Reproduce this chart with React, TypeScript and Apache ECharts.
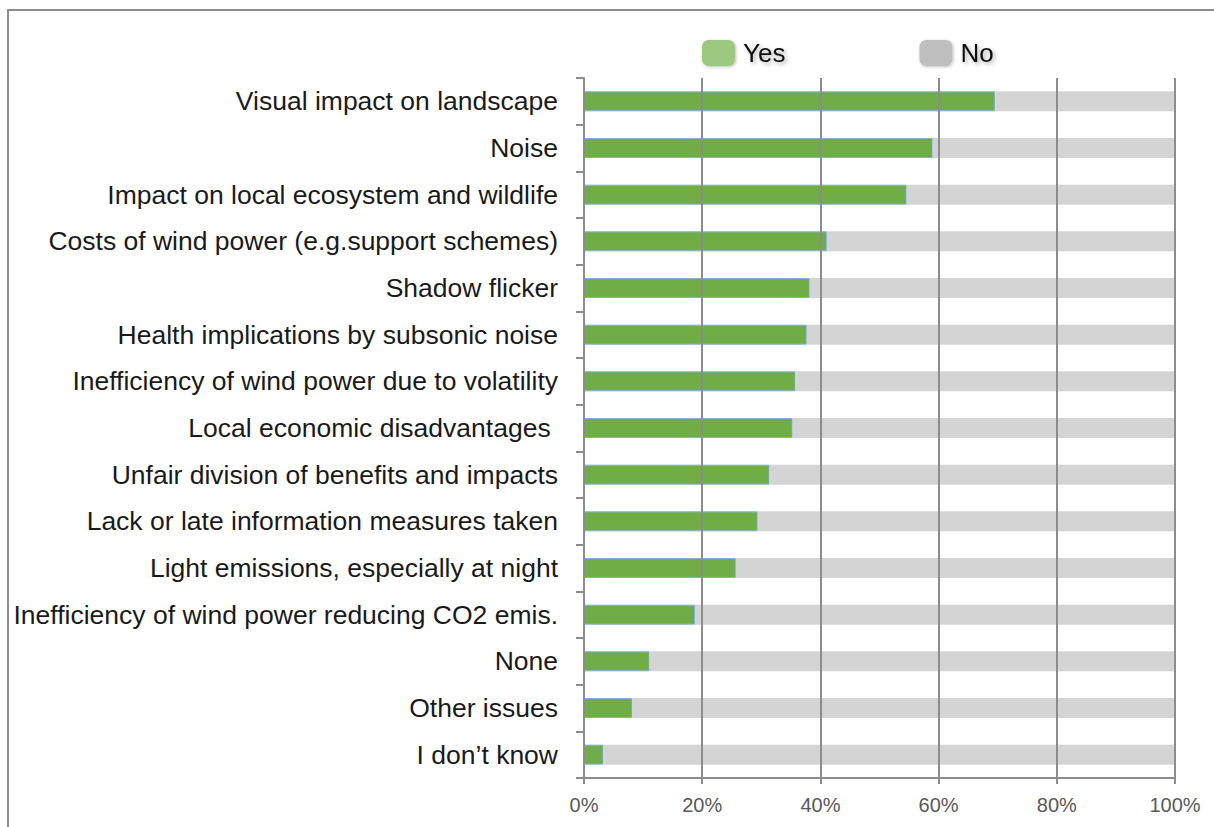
import React, { useEffect, useRef } from "react";
import * as echarts from "echarts";

const categories = [
  "Visual impact on landscape",
  "Noise",
  "Impact on local ecosystem and wildlife",
  "Costs of wind power (e.g.support schemes)",
  "Shadow flicker",
  "Health implications by subsonic noise",
  "Inefficiency of wind power due to volatility",
  "Local economic disadvantages ",
  "Unfair division of benefits and impacts",
  "Lack or late information measures taken",
  "Light emissions, especially at night",
  "Inefficiency of wind power reducing CO2 emis.",
  "None",
  "Other issues",
  "I don’t know",
];

const yesValues = [69.6, 59.0, 54.6, 41.1, 38.2, 37.7, 35.8, 35.3, 31.4, 29.4, 25.7, 18.8, 11.1, 8.2, 3.3];
const noValues = [30.4, 41.0, 45.4, 58.9, 61.8, 62.3, 64.2, 64.7, 68.6, 70.6, 74.3, 81.2, 88.9, 91.8, 96.7];

const xTicks = [0, 20, 40, 60, 80, 100];

const FONT = "Liberation Sans, Arial, sans-serif";

export default function App() {
  const ref = useRef<HTMLDivElement>(null);

  useEffect(() => {
    document.body.style.margin = "0";
    const chart = echarts.init(ref.current!, undefined, { renderer: "svg" });
    const option = {
      animation: false,
      backgroundColor: "#ffffff",
      textStyle: { fontFamily: FONT },
      graphic: [
        {
          type: "rect",
          shape: { x: 8, y: 10, width: 1400, height: 1000 },
          style: { fill: "none", stroke: "#8c8c8c", lineWidth: 2 },
          silent: true,
          z: -1,
        },
      ],
      legend: {
        left: 702,
        top: 40,
        padding: 0,
        itemWidth: 33,
        itemHeight: 26,
        itemGap: 134,
        icon: "roundRect",
        data: [
          { name: "Yes", itemStyle: { color: "#9cc87f", borderWidth: 0, shadowBlur: 3, shadowColor: "rgba(0,0,0,0.25)", shadowOffsetX: 1, shadowOffsetY: 1 } },
          { name: "No", itemStyle: { color: "#bfbfbf", borderWidth: 0, shadowBlur: 3, shadowColor: "rgba(0,0,0,0.25)", shadowOffsetX: 1, shadowOffsetY: 1 } },
        ],
        textStyle: {
          fontFamily: FONT,
          fontSize: 26,
          color: "#111111",
          padding: [0, 0, 0, 3],
          textShadowColor: "rgba(0,0,0,0.35)",
          textShadowBlur: 4,
          textShadowOffsetX: 2,
          textShadowOffsetY: 2,
        },
      },
      grid: { left: 584, top: 78, width: 591, height: 700, containLabel: false },
      xAxis: {
        type: "value",
        min: 0,
        max: 100,
        interval: 20,
        z: 5,
        axisLine: { show: true, lineStyle: { color: "#8c8c8c", width: 2 } },
        axisTick: { show: true, length: 6, lineStyle: { color: "#8c8c8c", width: 2 } },
        splitLine: { show: true, lineStyle: { color: "#8c8c8c", width: 2 } },
        axisLabel: {
          fontFamily: FONT,
          fontSize: 20,
          color: "#595959",
          margin: 17,
          formatter: (v: number) => (xTicks.includes(v) ? v + "%" : ""),
        },
      },
      yAxis: {
        type: "category",
        data: categories,
        inverse: true,
        z: 5,
        axisLine: { show: true, lineStyle: { color: "#8c8c8c", width: 2 } },
        axisTick: { show: true, length: 8, lineStyle: { color: "#8c8c8c", width: 2 } },
        axisLabel: {
          fontFamily: FONT,
          fontSize: 26.5,
          color: "#1a1a1a",
          margin: 26,
        },
        splitLine: { show: false },
      },
      series: [
        {
          name: "Yes",
          type: "bar",
          stack: "total",
          barWidth: 20,
          data: yesValues,
          itemStyle: { color: "#70ad47", borderColor: "#7eb0e0", borderWidth: 1 },
        },
        {
          name: "No",
          type: "bar",
          stack: "total",
          barWidth: 20,
          data: noValues,
          itemStyle: { color: "#d4d4d4", borderWidth: 0 },
        },
      ],
    };
    chart.setOption(option);
    return () => chart.dispose();
  }, []);

  return (
    <div
      ref={ref}
      style={{ position: "fixed", left: 0, top: 0, width: 1214, height: 827 }}
    />
  );
}
